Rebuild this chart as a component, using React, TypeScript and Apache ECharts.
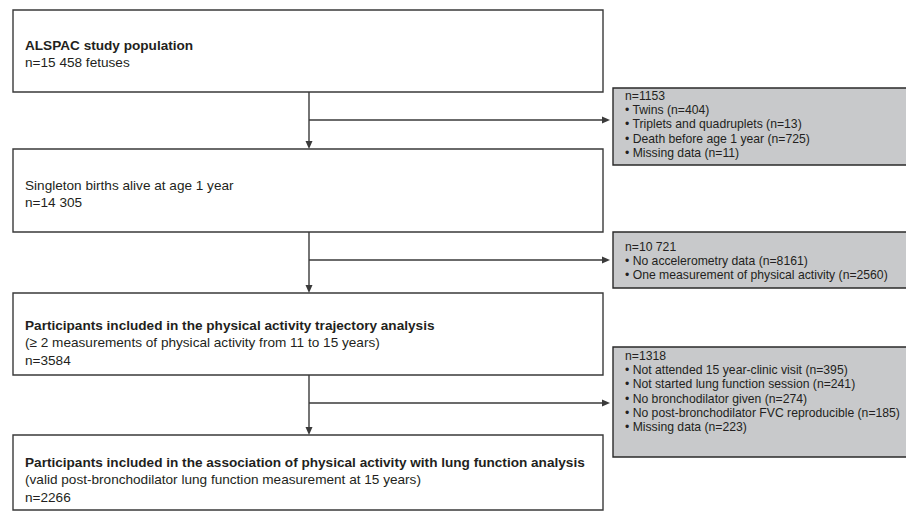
import React, { useEffect, useRef } from "react";
import * as echarts from "echarts";

// ---- Data (texts of the flow diagram) ----
const mainTitles = [
  "ALSPAC study population",
  "Singleton births alive at age 1 year",
  "Participants included in the physical activity trajectory analysis",
  "Participants included in the association of physical activity with lung function analysis",
];
const mainTitleBold = [true, false, true, true];
const mainDetails = [
  ["n=15 458 fetuses"],
  ["n=14 305"],
  ["(\u2265 2 measurements of physical activity from 11 to 15 years)", "n=3584"],
  ["(valid post-bronchodilator lung function measurement at 15 years)", "n=2266"],
];
const exclusionTotals = ["n=1153", "n=10 721", "n=1318"];
const exclusionItems = [
  ["Twins (n=404)", "Triplets and quadruplets (n=13)", "Death before age 1 year (n=725)", "Missing data (n=11)"],
  ["No accelerometry data (n=8161)", "One measurement of physical activity (n=2560)"],
  [
    "Not attended 15 year-clinic visit (n=395)",
    "Not started lung function session (n=241)",
    "No bronchodilator given (n=274)",
    "No post-bronchodilator FVC reproducible (n=185)",
    "Missing data (n=223)",
  ],
];

// ---- Layout ----
const BOX_X = 13;
const BOX_W = 590;
const boxTop = [10, 149, 293, 435];
const boxBottom = [92, 232, 375, 510];
const firstLineY = [45, 185, 325, 462];
const MAIN_LH = 17.8;
const CONN_X = 309;
const branchY = [120, 260, 403];
const grayX = 613;
const grayTop = [88, 232, 347];
const grayBottom = [165, 288, 457];
const grayFirstY = [96, 247, 356];
const GRAY_LH = 14.2;

const FONT = "'Liberation Sans', Arial, Helvetica, sans-serif";
const TEXT_COLOR = "#231f20";
const LINE_COLOR = "#3a3a3a";

function buildGraphics() {
  const els: any[] = [];
  // main boxes
  mainTitles.forEach((title, i) => {
    els.push({
      type: "rect",
      shape: { x: BOX_X, y: boxTop[i], width: BOX_W, height: boxBottom[i] - boxTop[i] },
      style: { fill: "#ffffff", stroke: LINE_COLOR, lineWidth: 1.4 },
    });
    const lines = [title, ...mainDetails[i]];
    lines.forEach((t, j) => {
      els.push({
        type: "text",
        x: 25,
        y: firstLineY[i] + j * MAIN_LH,
        style: {
          text: t,
          fill: TEXT_COLOR,
          font: `${j === 0 && mainTitleBold[i] ? "bold " : ""}13.6px ${FONT}`,
          verticalAlign: "middle",
          align: "left",
        },
      });
    });
  });
  // connectors
  for (let i = 0; i < 3; i++) {
    els.push({
      type: "line",
      shape: { x1: CONN_X, y1: boxBottom[i], x2: CONN_X, y2: boxTop[i + 1] - 6 },
      style: { stroke: LINE_COLOR, lineWidth: 1.4 },
    });
    els.push({
      type: "polygon",
      shape: {
        points: [
          [CONN_X - 3.5, boxTop[i + 1] - 8],
          [CONN_X + 3.5, boxTop[i + 1] - 8],
          [CONN_X, boxTop[i + 1]],
        ],
      },
      style: { fill: LINE_COLOR },
    });
    els.push({
      type: "line",
      shape: { x1: CONN_X, y1: branchY[i], x2: grayX - 6, y2: branchY[i] },
      style: { stroke: LINE_COLOR, lineWidth: 1.4 },
    });
    els.push({
      type: "polygon",
      shape: {
        points: [
          [grayX - 11, branchY[i] - 3.5],
          [grayX - 11, branchY[i] + 3.5],
          [grayX - 3, branchY[i]],
        ],
      },
      style: { fill: LINE_COLOR },
    });
  }
  // exclusion boxes
  exclusionTotals.forEach((tot, i) => {
    els.push({
      type: "rect",
      shape: { x: grayX, y: grayTop[i], width: 300, height: grayBottom[i] - grayTop[i] },
      style: { fill: "#c8c9cb", stroke: "#2a2a2a", lineWidth: 1.4 },
    });
    const lines = [tot, ...exclusionItems[i].map((s) => "\u2022 " + s)];
    lines.forEach((t, j) => {
      els.push({
        type: "text",
        x: 625,
        y: grayFirstY[i] + j * GRAY_LH,
        style: {
          text: t,
          fill: TEXT_COLOR,
          font: `12.2px ${FONT}`,
          verticalAlign: "middle",
          align: "left",
        },
      });
    });
  });
  return els;
}

export default function App() {
  const ref = useRef<HTMLDivElement>(null);
  useEffect(() => {
    document.body.style.margin = "0";
    const chart = echarts.init(ref.current!, undefined, { renderer: "svg" });
    chart.setOption({
      animation: false,
      backgroundColor: "#ffffff",
      graphic: { elements: buildGraphics() },
    });
    return () => chart.dispose();
  }, []);
  return <div ref={ref} style={{ width: 906, height: 511 }} />;
}
